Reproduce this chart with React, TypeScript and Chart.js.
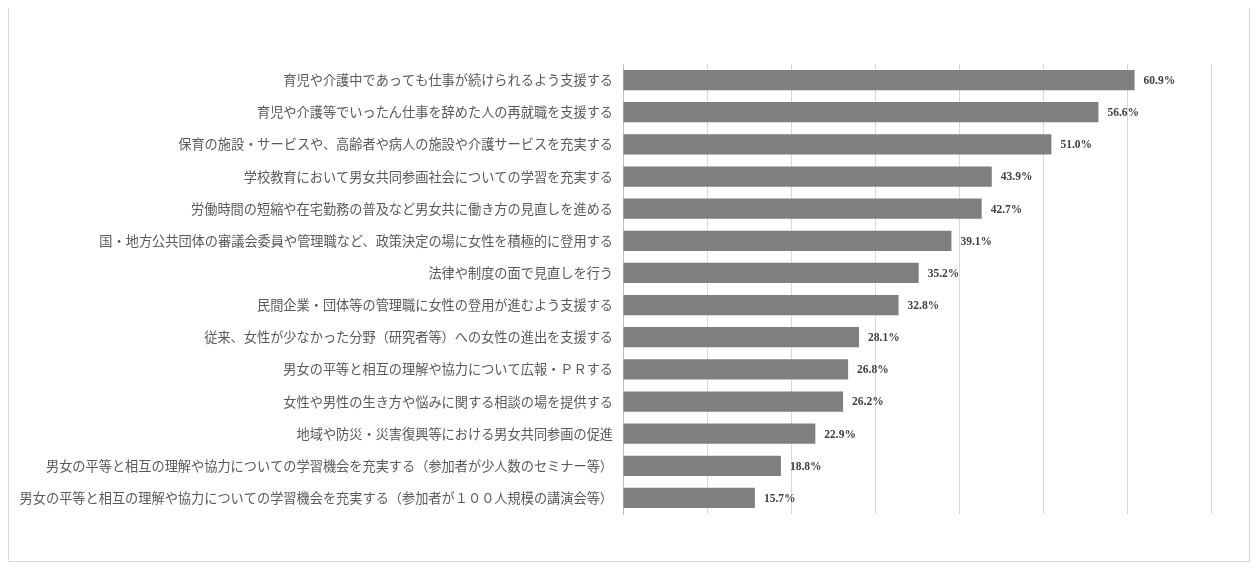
import React, { useEffect, useRef } from "react";
import { Chart, registerables } from "chart.js";

Chart.register(...registerables);

const categories: string[] = [
  "育児や介護中であっても仕事が続けられるよう支援する",
  "育児や介護等でいったん仕事を辞めた人の再就職を支援する",
  "保育の施設・サービスや、高齢者や病人の施設や介護サービスを充実する",
  "学校教育において男女共同参画社会についての学習を充実する",
  "労働時間の短縮や在宅勤務の普及など男女共に働き方の見直しを進める",
  "国・地方公共団体の審議会委員や管理職など、政策決定の場に女性を積極的に登用する",
  "法律や制度の面で見直しを行う",
  "民間企業・団体等の管理職に女性の登用が進むよう支援する",
  "従来、女性が少なかった分野（研究者等）への女性の進出を支援する",
  "男女の平等と相互の理解や協力について広報・ＰＲする",
  "女性や男性の生き方や悩みに関する相談の場を提供する",
  "地域や防災・災害復興等における男女共同参画の促進",
  "男女の平等と相互の理解や協力についての学習機会を充実する（参加者が少人数のセミナー等）",
  "男女の平等と相互の理解や協力についての学習機会を充実する（参加者が１００人規模の講演会等）",
];

const values: number[] = [60.9, 56.6, 51.0, 43.9, 42.7, 39.1, 35.2, 32.8, 28.1, 26.8, 26.2, 22.9, 18.8, 15.7];

const xMax = 70;
const xStep = 10;

const valueLabelPlugin = {
  id: "valueLabels",
  afterDatasetsDraw(chart: any) {
    const { ctx } = chart;
    const meta = chart.getDatasetMeta(0);
    ctx.save();
    ctx.font = "bold 11.5px 'Liberation Serif', 'DejaVu Serif', serif";
    ctx.fillStyle = "#404040";
    ctx.textAlign = "left";
    ctx.textBaseline = "middle";
    meta.data.forEach((bar: any, i: number) => {
      ctx.fillText(values[i].toFixed(1) + "%", bar.x + 9, bar.y + 1);
    });
    ctx.restore();
  },
};

export default function App() {
  const canvasRef = useRef<HTMLCanvasElement | null>(null);

  useEffect(() => {
    if (!canvasRef.current) return;
    const chart = new Chart(canvasRef.current, {
      type: "bar",
      data: {
        labels: categories,
        datasets: [
          {
            data: values,
            backgroundColor: "#7f7f7f",
            borderWidth: 0,
            barPercentage: 0.63,
            categoryPercentage: 1,
          },
        ],
      },
      options: {
        indexAxis: "y",
        animation: false,
        responsive: false,
        maintainAspectRatio: false,
        layout: { padding: { left: 0, right: 38, top: 58, bottom: 47 } },
        plugins: {
          legend: { display: false },
          tooltip: { enabled: false },
        },
        scales: {
          x: {
            min: 0,
            max: xMax,
            ticks: { display: false, stepSize: xStep },
            grid: { color: "#d9d9d9", drawTicks: false, tickLength: 0 },
            border: { display: false },
          },
          y: {
            afterFit: (s: any) => {
              s.width = 614;
            },
            ticks: {
              color: "#595959",
              font: { size: 13.2, family: "'Noto Sans CJK JP', sans-serif" },
              padding: 10,
              autoSkip: false,
            },
            grid: { display: false, drawTicks: false },
            border: { display: true, color: "#bfbfbf" },
          },
        },
      },
      plugins: [valueLabelPlugin],
    });
    return () => chart.destroy();
  }, []);

  return (
    <div
      style={{
        width: 1242,
        height: 557,
        border: "1px solid #d9d9d9",
        boxSizing: "border-box",
        position: "relative",
        marginTop: -3,
        background: "#fff",
      }}
    >
      <canvas ref={canvasRef} width={1240} height={555} style={{ display: "block" }} />
    </div>
  );
}
